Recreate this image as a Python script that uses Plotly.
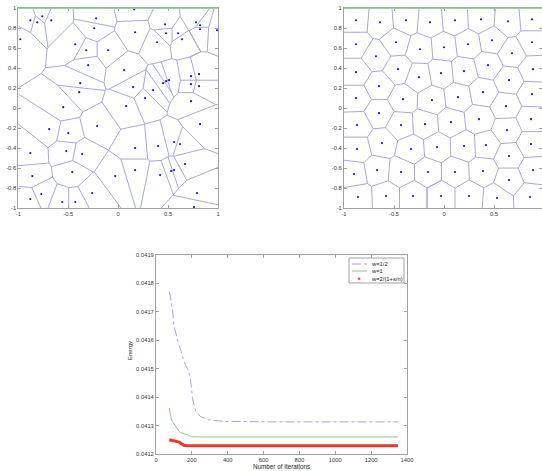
import plotly.graph_objects as go

# ---------------- data ----------------
# generator points, left panel (initial, random)
left_x = [-0.98, -0.88, -0.81, -0.76, -0.67, -0.22, -0.24, -0.43, -0.32, -0.10,
          -0.30, 0.16, 0.17, 0.06, -0.38, -0.39, 0.15, 0.39, 0.47, 0.48,
          0.60, 0.64, 0.78, 0.82, 0.82, 0.99, 0.35, 0.45, 0.48, 0.51,
          0.27, 0.08, -0.55, 0.73, 0.81, 0.73, 0.81, 0.73, -0.69, -0.21,
          -0.50, 0.82, -0.88, -0.52, -0.36, 0.17, 0.40, 0.56, 0.62, 0.67,
          -0.86, -0.46, -0.03, 0.17, 0.42, 0.53, 0.56, -0.77, -0.88, -0.56,
          -0.43, -0.26, 0.79, 0.76]
left_y = [0.69, 0.88, 0.86, 0.92, 0.88, 0.90, 0.80, 0.64, 0.58, 0.58,
          0.43, 0.99, 0.76, 0.38, 0.25, 0.16, 0.21, 0.66, 0.84, 0.75,
          0.75, 0.69, 0.86, 0.83, 0.79, 0.78, 0.18, 0.25, 0.27, 0.28,
          0.10, 0.02, 0.01, 0.32, 0.34, 0.24, 0.22, 0.07, -0.21, -0.18,
          -0.25, -0.16, -0.45, -0.43, -0.46, -0.40, -0.38, -0.34, -0.36, -0.56,
          -0.68, -0.64, -0.68, -0.62, -0.67, -0.63, -0.62, -0.86, -0.91, -0.94,
          -0.94, -0.85, -0.85, -0.99]

# generator points, right panel (after iterations, centroidal)
right_x = [-0.88, -0.64, -0.38, -0.14, 0.11, 0.37, 0.64, 0.88,
           -0.88, -0.48, -0.24, 0.00, 0.24, 0.48, 0.68, 0.88,
           -0.68, -0.46, -0.88, -0.25, -0.03, 0.20, 0.44, 0.65, 0.89,
           -0.65, -0.88, -0.41, -0.12, 0.14, 0.39, 0.62, 0.88,
           -0.65, -0.87, -0.43, -0.19, 0.07, 0.35, 0.63, 0.87,
           -0.62, -0.87, -0.33, -0.07, 0.20, 0.42, 0.65, 0.87,
           -0.67, -0.90, -0.43, -0.16, 0.11, 0.39, 0.65, 0.89,
           -0.86, -0.58, -0.31, -0.03, 0.25, 0.53, 0.86]
right_y = [0.88, 0.86, 0.88, 0.86, 0.88, 0.89, 0.87, 0.89,
           0.64, 0.66, 0.59, 0.61, 0.64, 0.68, 0.55, 0.66,
           0.52, 0.39, 0.36, 0.31, 0.35, 0.37, 0.43, 0.28, 0.39,
           0.22, 0.10, 0.09, 0.08, 0.11, 0.16, 0.02, 0.14,
           -0.05, -0.17, -0.17, -0.16, -0.14, -0.11, -0.22, -0.11,
           -0.35, -0.41, -0.41, -0.39, -0.38, -0.37, -0.48, -0.36,
           -0.62, -0.66, -0.64, -0.64, -0.64, -0.63, -0.72, -0.62,
           -0.89, -0.88, -0.88, -0.88, -0.88, -0.90, -0.89]

# energy vs iterations
iter_half = [75, 92, 101, 114, 125, 138, 147, 156, 175, 189, 197, 204, 212, 221, 248, 294, 377, 634, 1350]
energy_half = [0.041771, 0.041707, 0.041648, 0.041613, 0.041590, 0.041566, 0.041549, 0.041525,
               0.041500, 0.041475, 0.041437, 0.041395, 0.041375, 0.041350, 0.041332, 0.041320,
               0.041315, 0.041313, 0.041313]
iter_one = [73, 80, 87, 98, 110, 122, 134, 156, 175, 197, 230, 1350]
energy_one = [0.041362, 0.041338, 0.041320, 0.041308, 0.041297, 0.041285, 0.041276, 0.041271,
              0.041268, 0.041261, 0.041260, 0.041260]
iter_var = [74, 100, 120, 130, 138, 147, 156, 166, 175, 1350]
energy_var = [0.041250, 0.041247, 0.041245, 0.041242, 0.041238, 0.041234, 0.041231, 0.041230,
              0.041229, 0.041229]

series_names = ["w=1/2", "w=1", "w=2/(1+s/n)"]

sq_ticks = [-1, -0.8, -0.6, -0.4, -0.2, 0, 0.2, 0.4, 0.6, 0.8, 1]
sq_ticktext = ["-1", "-0.8", "-0.6", "-0.4", "-0.2", "0", "0.2", "0.4", "0.6", "0.8", "1"]
sqx_ticks = [-1, -0.5, 0, 0.5, 1]
sqx_ticktext = ["-1", "-0.5", "0", "0.5", "1"]
e_yticks = [0.0412, 0.0413, 0.0414, 0.0415, 0.0416, 0.0417, 0.0418, 0.0419]
e_yticktext = ["0.0412", "0.0413", "0.0414", "0.0415", "0.0416", "0.0417", "0.0418", "0.0419"]
e_xticks = [0, 200, 400, 600, 800, 1000, 1200, 1400]


# ---------------- Voronoi via half-plane clipping ----------------
def clip(poly, a, b, c):
    out = []
    n = len(poly)
    for k in range(n):
        P = poly[k]
        Q = poly[(k + 1) % n]
        dp = a * P[0] + b * P[1] - c
        dq = a * Q[0] + b * Q[1] - c
        if dp <= 0:
            out.append(P)
        if dp * dq < 0:
            t = dp / (dp - dq)
            out.append((P[0] + t * (Q[0] - P[0]), P[1] + t * (Q[1] - P[1])))
    return out


def voronoi_edges(xs, ys):
    pts = list(zip(xs, ys))
    seen = set()
    ex, ey = [], []
    for i, (px, py) in enumerate(pts):
        poly = [(-1.0, -1.0), (1.0, -1.0), (1.0, 1.0), (-1.0, 1.0)]
        for j, (qx, qy) in enumerate(pts):
            if i == j:
                continue
            a, b = qx - px, qy - py
            c = (qx * qx + qy * qy - px * px - py * py) / 2.0
            poly = clip(poly, a, b, c)
            if not poly:
                break
        n = len(poly)
        for k in range(n):
            P = poly[k]
            Q = poly[(k + 1) % n]
            if abs(P[0] - Q[0]) < 1e-9 and abs(P[1] - Q[1]) < 1e-9:
                continue
            on_b = False
            for v in (-1.0, 1.0):
                if abs(P[0] - v) < 1e-9 and abs(Q[0] - v) < 1e-9:
                    on_b = True
                if abs(P[1] - v) < 1e-9 and abs(Q[1] - v) < 1e-9:
                    on_b = True
            if on_b:
                continue
            key = tuple(sorted([(round(P[0], 5), round(P[1], 5)), (round(Q[0], 5), round(Q[1], 5))]))
            if key in seen:
                continue
            seen.add(key)
            ex += [P[0], Q[0], None]
            ey += [P[1], Q[1], None]
    return ex, ey


edge_col = "#9c9cd8"
pt_col = "#1010ff"
W, H = 542, 471


def px2x(p):
    return p / W


def px2y(p):
    return 1 - p / H


fig = go.Figure()

lx, ly = voronoi_edges(left_x, left_y)
fig.add_trace(go.Scatter(x=lx, y=ly, mode="lines", line=dict(color=edge_col, width=0.9),
                         xaxis="x", yaxis="y", showlegend=False, hoverinfo="skip"))
fig.add_trace(go.Scatter(x=left_x, y=left_y, mode="markers", marker=dict(color=pt_col, size=2.2),
                         xaxis="x", yaxis="y", showlegend=False))

rx, ry = voronoi_edges(right_x, right_y)
fig.add_trace(go.Scatter(x=rx, y=ry, mode="lines", line=dict(color=edge_col, width=0.9),
                         xaxis="x2", yaxis="y2", showlegend=False, hoverinfo="skip"))
fig.add_trace(go.Scatter(x=right_x, y=right_y, mode="markers", marker=dict(color=pt_col, size=2.2),
                         xaxis="x2", yaxis="y2", showlegend=False))

c_half = "#a89ee6"
c_one = "#8cc88c"
c_var = "#e8392a"
fig.add_trace(go.Scatter(x=iter_half, y=energy_half, mode="lines", name=series_names[0],
                         line=dict(color=c_half, width=1, dash="dashdot"),
                         xaxis="x3", yaxis="y3", showlegend=False))
fig.add_trace(go.Scatter(x=iter_one, y=energy_one, mode="lines", name=series_names[1],
                         line=dict(color=c_one, width=1),
                         xaxis="x3", yaxis="y3", showlegend=False))
fig.add_trace(go.Scatter(x=iter_var, y=energy_var, mode="lines", name=series_names[2],
                         line=dict(color=c_var, width=3),
                         xaxis="x3", yaxis="y3", showlegend=False))

tick_font = dict(family="Liberation Sans, Arial", size=5.8, color="#333333")
frame = dict(showline=True, mirror="allticks", linecolor="#a0a0a0", linewidth=1,
             ticks="inside", ticklen=3, tickcolor="#a0a0a0", showgrid=False, zeroline=False,
             tickfont=tick_font, automargin=False)

fig.update_layout(
    width=W, height=H, margin=dict(l=0, r=0, t=0, b=0),
    paper_bgcolor="white", plot_bgcolor="white", showlegend=False,
    xaxis=dict(domain=[px2x(18.3), px2x(218)], range=[-1, 1], tickvals=sqx_ticks,
               ticktext=sqx_ticktext, anchor="y", **frame),
    yaxis=dict(domain=[px2y(208), px2y(8.3)], range=[-1, 1], tickvals=sq_ticks,
               ticktext=sq_ticktext, anchor="x", **frame),
    xaxis2=dict(domain=[px2x(344), 1.0], range=[-1, 0.98], tickvals=sqx_ticks,
                ticktext=sqx_ticktext, anchor="y2", **frame),
    yaxis2=dict(domain=[px2y(208), px2y(8.3)], range=[-1, 1], tickvals=sq_ticks,
                ticktext=sq_ticktext, anchor="x2", **frame),
    xaxis3=dict(domain=[px2x(156), px2x(407)], range=[0, 1400], tickvals=e_xticks,
                anchor="y3", **frame),
    yaxis3=dict(domain=[px2y(454), px2y(255)], range=[0.0412, 0.0419], tickvals=e_yticks,
                ticktext=e_yticktext, anchor="x3", **frame),
)

shapes = []
# green line along the top edge of the two Voronoi panels
for xr, yr in (("x domain", "y domain"), ("x2 domain", "y2 domain")):
    shapes.append(dict(type="line", xref=xr, yref=yr, x0=0, x1=1, y0=1, y1=1,
                       line=dict(color="#90d890", width=1.2)))

# legend box
shapes.append(dict(type="rect", xref="paper", yref="paper", x0=px2x(349), x1=px2x(404),
                   y0=px2y(283), y1=px2y(258), line=dict(color="#a0a0a0", width=1),
                   fillcolor="white"))
shapes.append(dict(type="line", xref="paper", yref="paper", x0=px2x(352), x1=px2x(367),
                   y0=px2y(264), y1=px2y(264), line=dict(color=c_half, width=1, dash="dashdot")))
shapes.append(dict(type="line", xref="paper", yref="paper", x0=px2x(352), x1=px2x(367),
                   y0=px2y(271), y1=px2y(271), line=dict(color=c_one, width=1)))
shapes.append(dict(type="circle", xref="paper", yref="paper", x0=px2x(358.2), x1=px2x(360.2),
                   y0=px2y(279.8), y1=px2y(277.8), line=dict(color=c_var, width=0.5),
                   fillcolor=c_var))
fig.update_layout(shapes=shapes)

lab_font = dict(family="Liberation Sans, Arial", size=5.8, color="#222222")
annotations = []
for name, ypx in zip(series_names, (264, 271, 279)):
    annotations.append(dict(text=name, xref="paper", yref="paper", x=px2x(369), y=px2y(ypx),
                            xanchor="left", yanchor="middle", showarrow=False, font=lab_font))
annotations.append(dict(text="Energy", xref="paper", yref="paper", x=px2x(130), y=px2y(351),
                        textangle=-90, xanchor="center", yanchor="middle", showarrow=False,
                        font=dict(family="Liberation Sans, Arial", size=6, color="#222222")))
annotations.append(dict(text="Number of Iterations", xref="paper", yref="paper", x=px2x(282),
                        y=px2y(466.5), xanchor="center", yanchor="middle", showarrow=False,
                        font=dict(family="Liberation Sans, Arial", size=6.3, color="#222222")))
fig.update_layout(annotations=annotations)

fig.write_html("out.html", config={"displayModeBar": False},
               post_script="document.body.style.margin='0';")
